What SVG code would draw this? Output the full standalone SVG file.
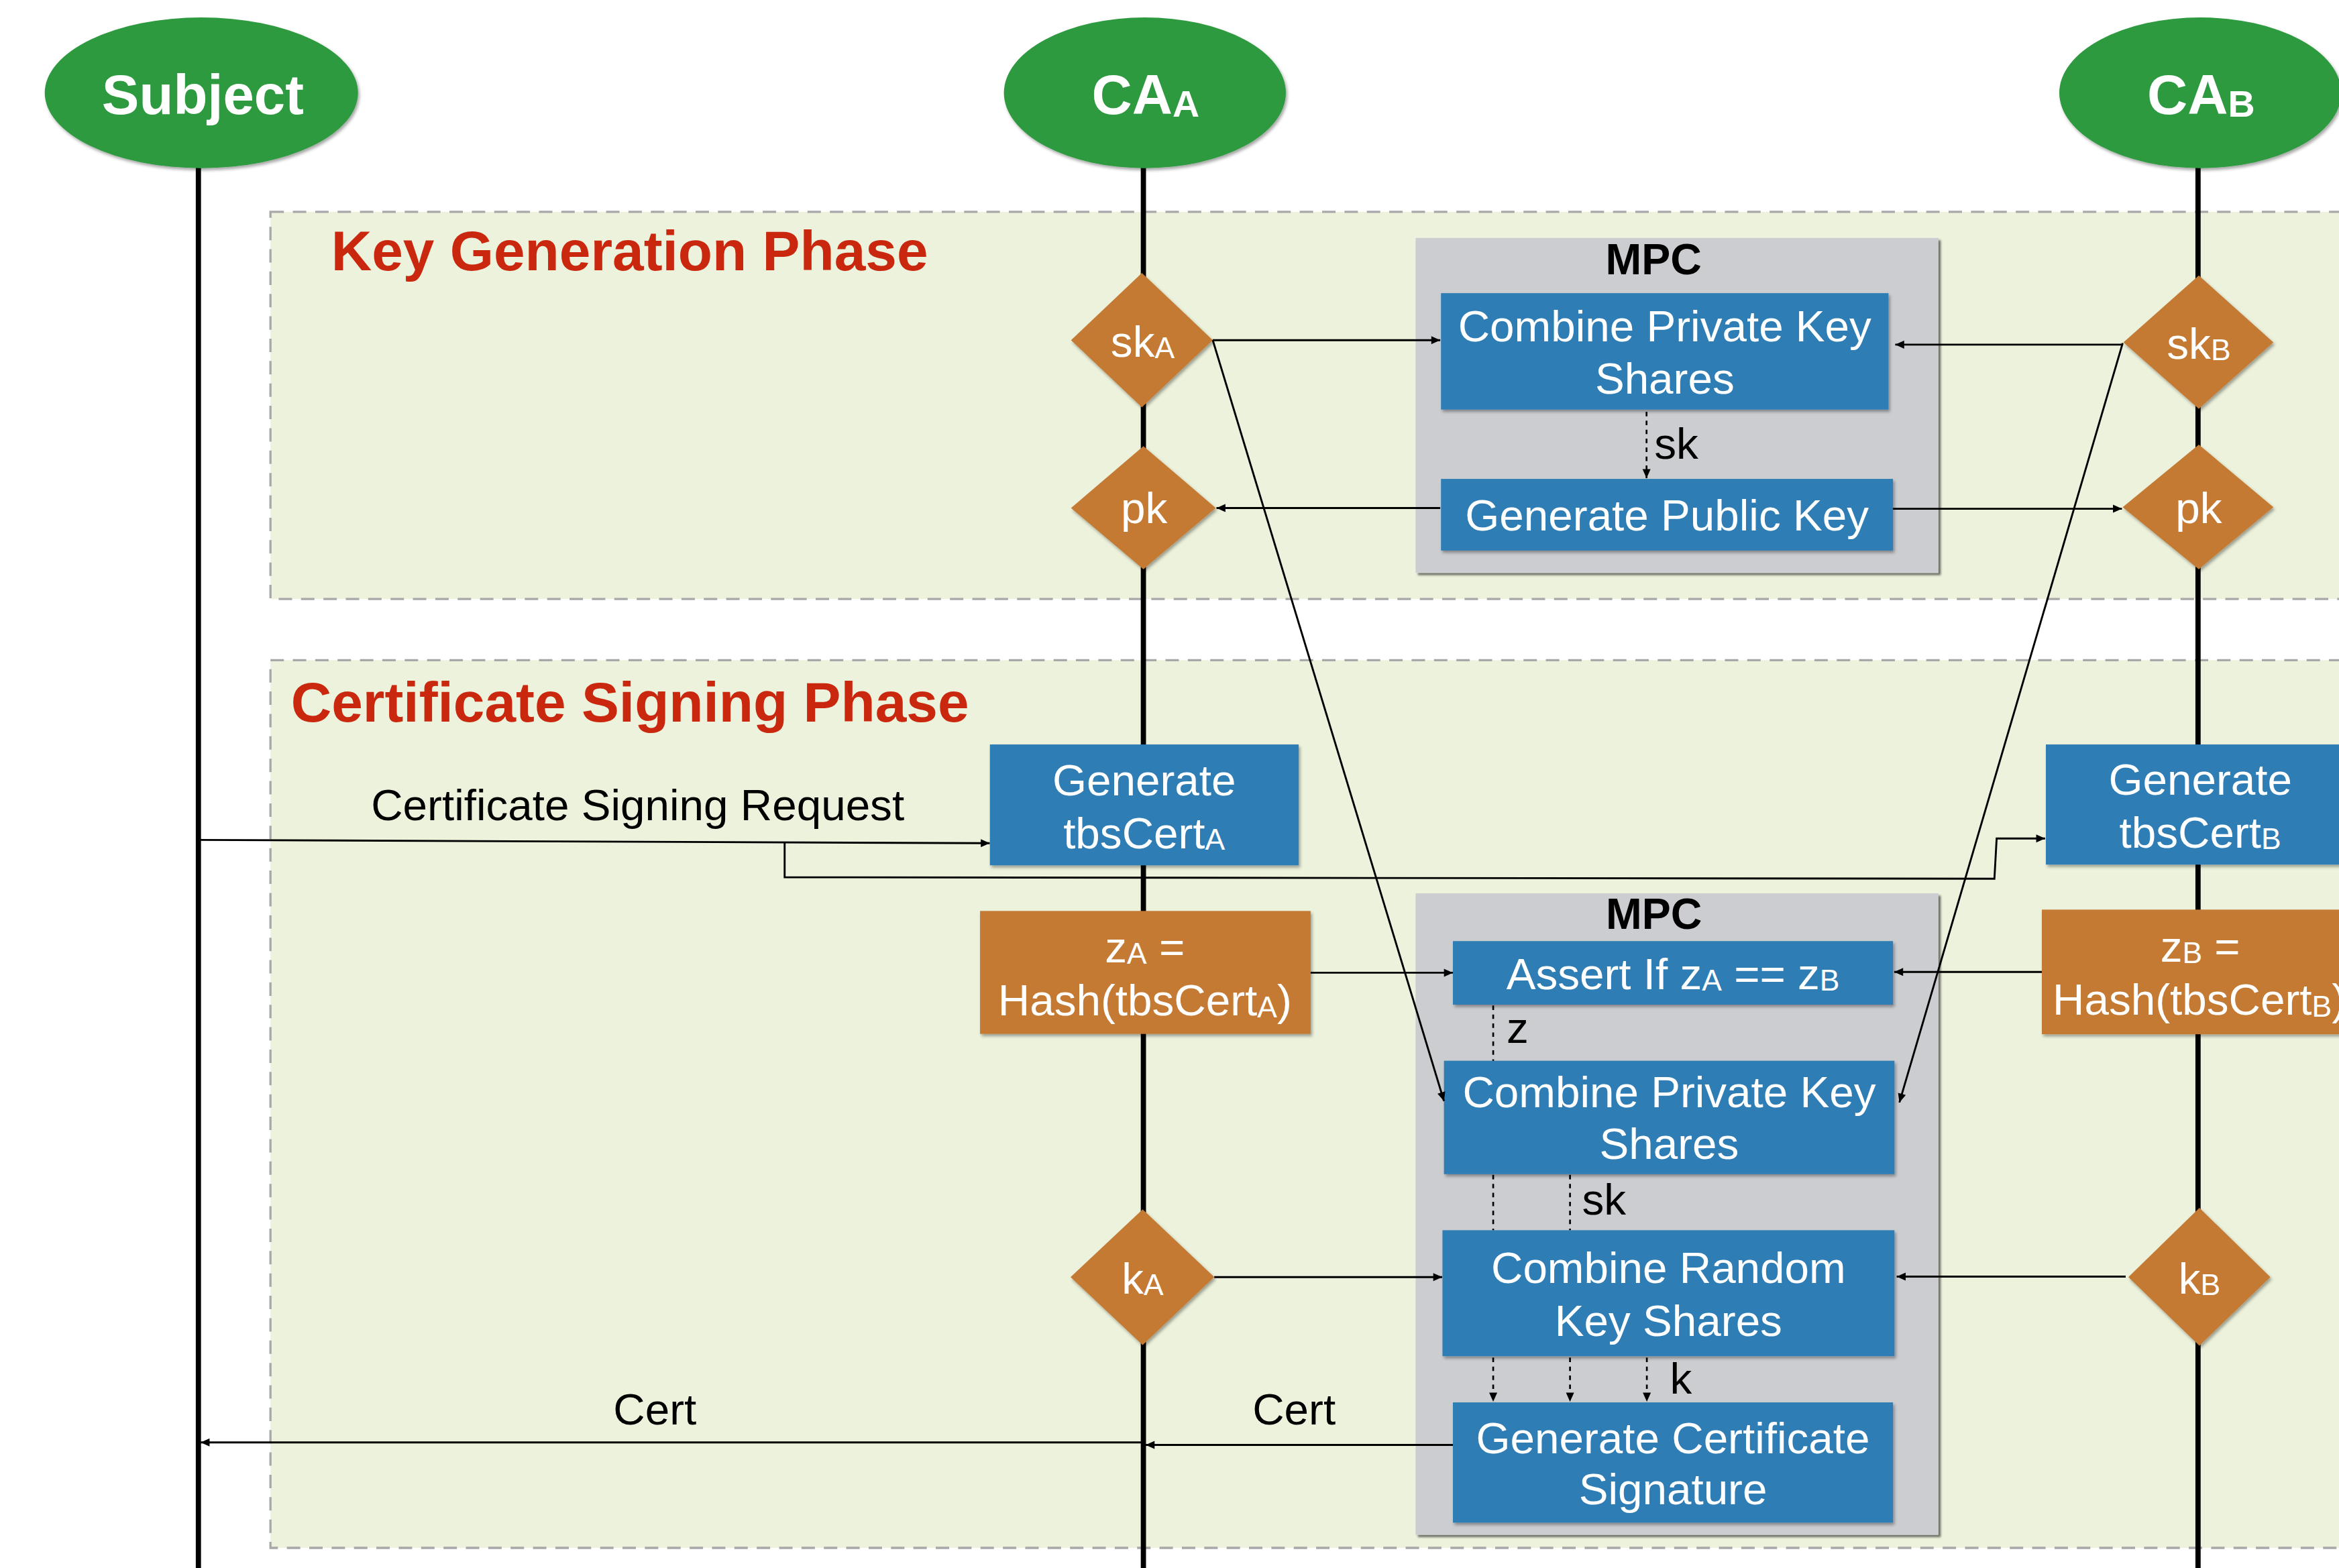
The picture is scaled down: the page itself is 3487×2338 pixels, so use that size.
<svg xmlns="http://www.w3.org/2000/svg" width="3487" height="2338" viewBox="0 0 3487 2338">
<defs>
<style>
.phase{fill:#edf2dc;stroke:#a8a8a8;stroke-width:1.5;stroke-dasharray:9 6}
.ptitle{font-family:"Liberation Sans",Arial,sans-serif;font-weight:bold;font-size:37.7px;fill:#c9280f}
.life{stroke:#000;stroke-width:3.5;fill:none}
.actor{fill:#2f9a41;filter:url(#sh)}
.actor-t{font-family:"Liberation Sans",Arial,sans-serif;font-weight:bold;font-size:37.5px;fill:#fff;text-anchor:middle}
.asub{font-size:25px}
.mpc{fill:#cbcdd1;filter:url(#sh2)}
.mpc-t{font-family:"Liberation Sans",Arial,sans-serif;font-weight:bold;font-size:29px;fill:#000;text-anchor:middle}
.blue{fill:#2d7db5;filter:url(#sh)}
.orange{fill:#c47a33;filter:url(#sh)}
.nt{font-family:"Liberation Sans",Arial,sans-serif;font-size:29.5px;fill:#fff;text-anchor:middle}
.sub{font-size:20px}
.lbl{font-family:"Liberation Sans",Arial,sans-serif;font-size:29.5px;fill:#000}
.conn{stroke:#000;stroke-width:1.3;fill:none}
.dash{stroke:#000;stroke-width:1.2;stroke-dasharray:3 3;fill:none}
</style>
<filter id="sh" x="-10%" y="-10%" width="125%" height="130%">
<feDropShadow dx="1" dy="1.5" stdDeviation="1" flood-color="#000" flood-opacity="0.35"/>
</filter>
<filter id="sh2" x="-5%" y="-5%" width="115%" height="115%">
<feDropShadow dx="1.5" dy="1.5" stdDeviation="0.8" flood-color="#000" flood-opacity="0.55"/>
</filter>
<marker id="arr" viewBox="0 0 10 10" refX="10" refY="5" markerWidth="7" markerHeight="6" orient="auto" markerUnits="userSpaceOnUse">
<path d="M0,0.5 L10,5 L0,9.5 z" fill="#000"/>
</marker>
</defs>
<rect width="3487" height="2338" fill="#fff"/>
<g transform="scale(2.22385,2.22455)">
<g id="phase-keygen">
<rect class="phase" x="181.3" y="142" width="1430" height="259.5"/>
<text class="ptitle" x="222" y="181">Key Generation Phase</text>
</g>
<g id="phase-signing">
<rect class="phase" x="181.3" y="442.5" width="1430" height="595"/>
<text class="ptitle" x="195" y="483.5">Certificate Signing Phase</text>
</g>
<g id="lifelines">
<line class="life" x1="133" y1="110" x2="133" y2="1060"/>
<line class="life" x1="766.5" y1="110" x2="766.5" y2="1060"/>
<line class="life" x1="1473.5" y1="110" x2="1473.5" y2="1060"/>
</g>
<g id="actor-subject">
<ellipse class="actor" cx="135" cy="62.2" rx="105" ry="50.5"/>
<text class="actor-t" x="136" y="76.5">Subject</text>
</g>
<g id="actor-ca-a">
<ellipse class="actor" cx="767.5" cy="62.2" rx="94.5" ry="50.5"/>
<text class="actor-t" x="768" y="76.5">CA<tspan class="asub" dy="1.5">A</tspan></text>
</g>
<g id="actor-ca-b">
<ellipse class="actor" cx="1475" cy="62.2" rx="94.5" ry="50.5"/>
<text class="actor-t" x="1475.5" y="76.5">CA<tspan class="asub" dy="1.5">B</tspan></text>
</g>
<g id="mpc-keygen">
<rect class="mpc" x="949" y="159.5" width="350.5" height="224.5"/>
<text class="mpc-t" x="1108.5" y="184">MPC</text>
</g>
<g id="mpc-signing">
<rect class="mpc" x="949" y="598.8" width="350.5" height="430"/>
<text class="mpc-t" x="1108.7" y="622.8">MPC</text>
</g>
<g id="combine-pk-1">
<rect class="blue" x="966" y="196.5" width="300" height="78"/>
<text class="nt" x="1116" y="228.7">Combine Private Key</text>
<text class="nt" x="1116" y="264">Shares</text>
</g>
<g id="gen-public-key">
<rect class="blue" x="966" y="321" width="303" height="48"/>
<text class="nt" x="1117.5" y="355.7">Generate Public Key</text>
</g>
<g id="sk-a">
<polygon class="orange" points="765.5,183 813,228 765.5,273 718,228"/>
<text class="nt" x="766" y="239">sk<tspan class="sub" dy="1">A</tspan></text>
</g>
<g id="pk-a">
<polygon class="orange" points="766.5,299 815,340.5 766.5,381.5 718,340.5"/>
<text class="nt" x="767" y="350.5">pk</text>
</g>
<g id="sk-b">
<polygon class="orange" points="1474,184.7 1524,229.5 1474,274 1423.5,229.5"/>
<text class="nt" x="1474" y="240.5">sk<tspan class="sub" dy="1">B</tspan></text>
</g>
<g id="pk-b">
<polygon class="orange" points="1474,298 1524,340 1474,381.5 1423,340"/>
<text class="nt" x="1474" y="350.5">pk</text>
</g>
<g id="gen-tbs-a">
<rect class="blue" x="663.6" y="499" width="207" height="81"/>
<text class="nt" x="767" y="533">Generate</text>
<text class="nt" x="767" y="568.5">tbsCert<tspan class="sub" dy="1">A</tspan></text>
</g>
<g id="gen-tbs-b">
<rect class="blue" x="1371.5" y="499" width="207" height="80.5"/>
<text class="nt" x="1475" y="532.5">Generate</text>
<text class="nt" x="1475" y="568">tbsCert<tspan class="sub" dy="1">B</tspan></text>
</g>
<g id="hash-a">
<rect class="orange" x="657" y="610.6" width="221.6" height="82.4"/>
<text class="nt" x="767.5" y="645">z<tspan class="sub" dy="1">A</tspan><tspan dy="-1"> =</tspan></text>
<text class="nt" x="767.5" y="680.8">Hash(tbsCert<tspan class="sub" dy="1">A</tspan><tspan dy="-1">)</tspan></text>
</g>
<g id="hash-b">
<rect class="orange" x="1368.8" y="609.7" width="221.6" height="83.5"/>
<text class="nt" x="1475" y="644.5">z<tspan class="sub" dy="1">B</tspan><tspan dy="-1"> =</tspan></text>
<text class="nt" x="1474.5" y="680.3">Hash(tbsCert<tspan class="sub" dy="1">B</tspan><tspan dy="-1">)</tspan></text>
</g>
<g id="assert-z">
<rect class="blue" x="974" y="630.8" width="295" height="42.6"/>
<text class="nt" x="1121.5" y="663">Assert If z<tspan class="sub" dy="1">A</tspan><tspan dy="-1"> == z</tspan><tspan class="sub" dy="1">B</tspan></text>
</g>
<g id="combine-pk-2">
<rect class="blue" x="968" y="711" width="302" height="76"/>
<text class="nt" x="1119" y="742">Combine Private Key</text>
<text class="nt" x="1119" y="777">Shares</text>
</g>
<g id="combine-rk">
<rect class="blue" x="967" y="824.6" width="303" height="84.4"/>
<text class="nt" x="1118.5" y="860">Combine Random</text>
<text class="nt" x="1118.5" y="895.5">Key Shares</text>
</g>
<g id="k-a">
<polygon class="orange" points="766,810.6 814,856 766,901.5 717.7,856"/>
<text class="nt" x="766" y="867">k<tspan class="sub" dy="1">A</tspan></text>
</g>
<g id="k-b">
<polygon class="orange" points="1474.4,809.6 1522,856 1474.4,902 1426.8,856"/>
<text class="nt" x="1474.5" y="867">k<tspan class="sub" dy="1">B</tspan></text>
</g>
<g id="gen-cert-sig">
<rect class="blue" x="974" y="940" width="295" height="80.6"/>
<text class="nt" x="1121.5" y="974">Generate Certificate</text>
<text class="nt" x="1121.5" y="1008.5">Signature</text>
</g>
<g id="connectors">
<path class="conn" d="M813,228 H965.5" marker-end="url(#arr)"/>
<path class="conn" d="M1423,231 H1270.5" marker-end="url(#arr)"/>
<path class="conn" d="M965.5,340.5 H815.5" marker-end="url(#arr)"/>
<path class="conn" d="M1269,341 H1422.5" marker-end="url(#arr)"/>
<path class="dash" d="M1103.8,276 V320.5" marker-end="url(#arr)"/>
<text class="lbl" x="1109" y="307.5">sk</text>
<path class="conn" d="M813,228 L968,738" marker-end="url(#arr)"/>
<path class="conn" d="M1423,230 L1273.3,739" marker-end="url(#arr)"/>
<path class="conn" d="M133,563 L663.5,565.2" marker-end="url(#arr)"/>
<text class="lbl" x="427.5" y="550" text-anchor="middle">Certificate Signing Request</text>
<path class="conn" d="M526,564.3 V588 L1337,589 L1338.5,562 H1371" marker-end="url(#arr)"/>
<path class="conn" d="M878.6,652 H974" marker-end="url(#arr)"/>
<path class="conn" d="M1368.8,651.5 H1269.8" marker-end="url(#arr)"/>
<path class="dash" d="M1001,674 V711"/>
<text class="lbl" x="1010" y="699">z</text>
<path class="dash" d="M1001,787.5 V824.5"/>
<path class="dash" d="M1052.5,787.5 V824.5"/>
<text class="lbl" x="1060.5" y="814">sk</text>
<path class="dash" d="M1001,910 V939.5" marker-end="url(#arr)"/>
<path class="dash" d="M1052.5,910 V939.5" marker-end="url(#arr)"/>
<path class="dash" d="M1104,910 V939.5" marker-end="url(#arr)"/>
<text class="lbl" x="1119.5" y="934">k</text>
<path class="conn" d="M814,856 H966.8" marker-end="url(#arr)"/>
<path class="conn" d="M1425,855.7 H1271.5" marker-end="url(#arr)"/>
<path class="conn" d="M974,968.5 H768" marker-end="url(#arr)"/>
<text class="lbl" x="867.5" y="955" text-anchor="middle">Cert</text>
<path class="conn" d="M765,966.8 H134.5" marker-end="url(#arr)"/>
<text class="lbl" x="439" y="955" text-anchor="middle">Cert</text>
</g>
</g>
</svg>
